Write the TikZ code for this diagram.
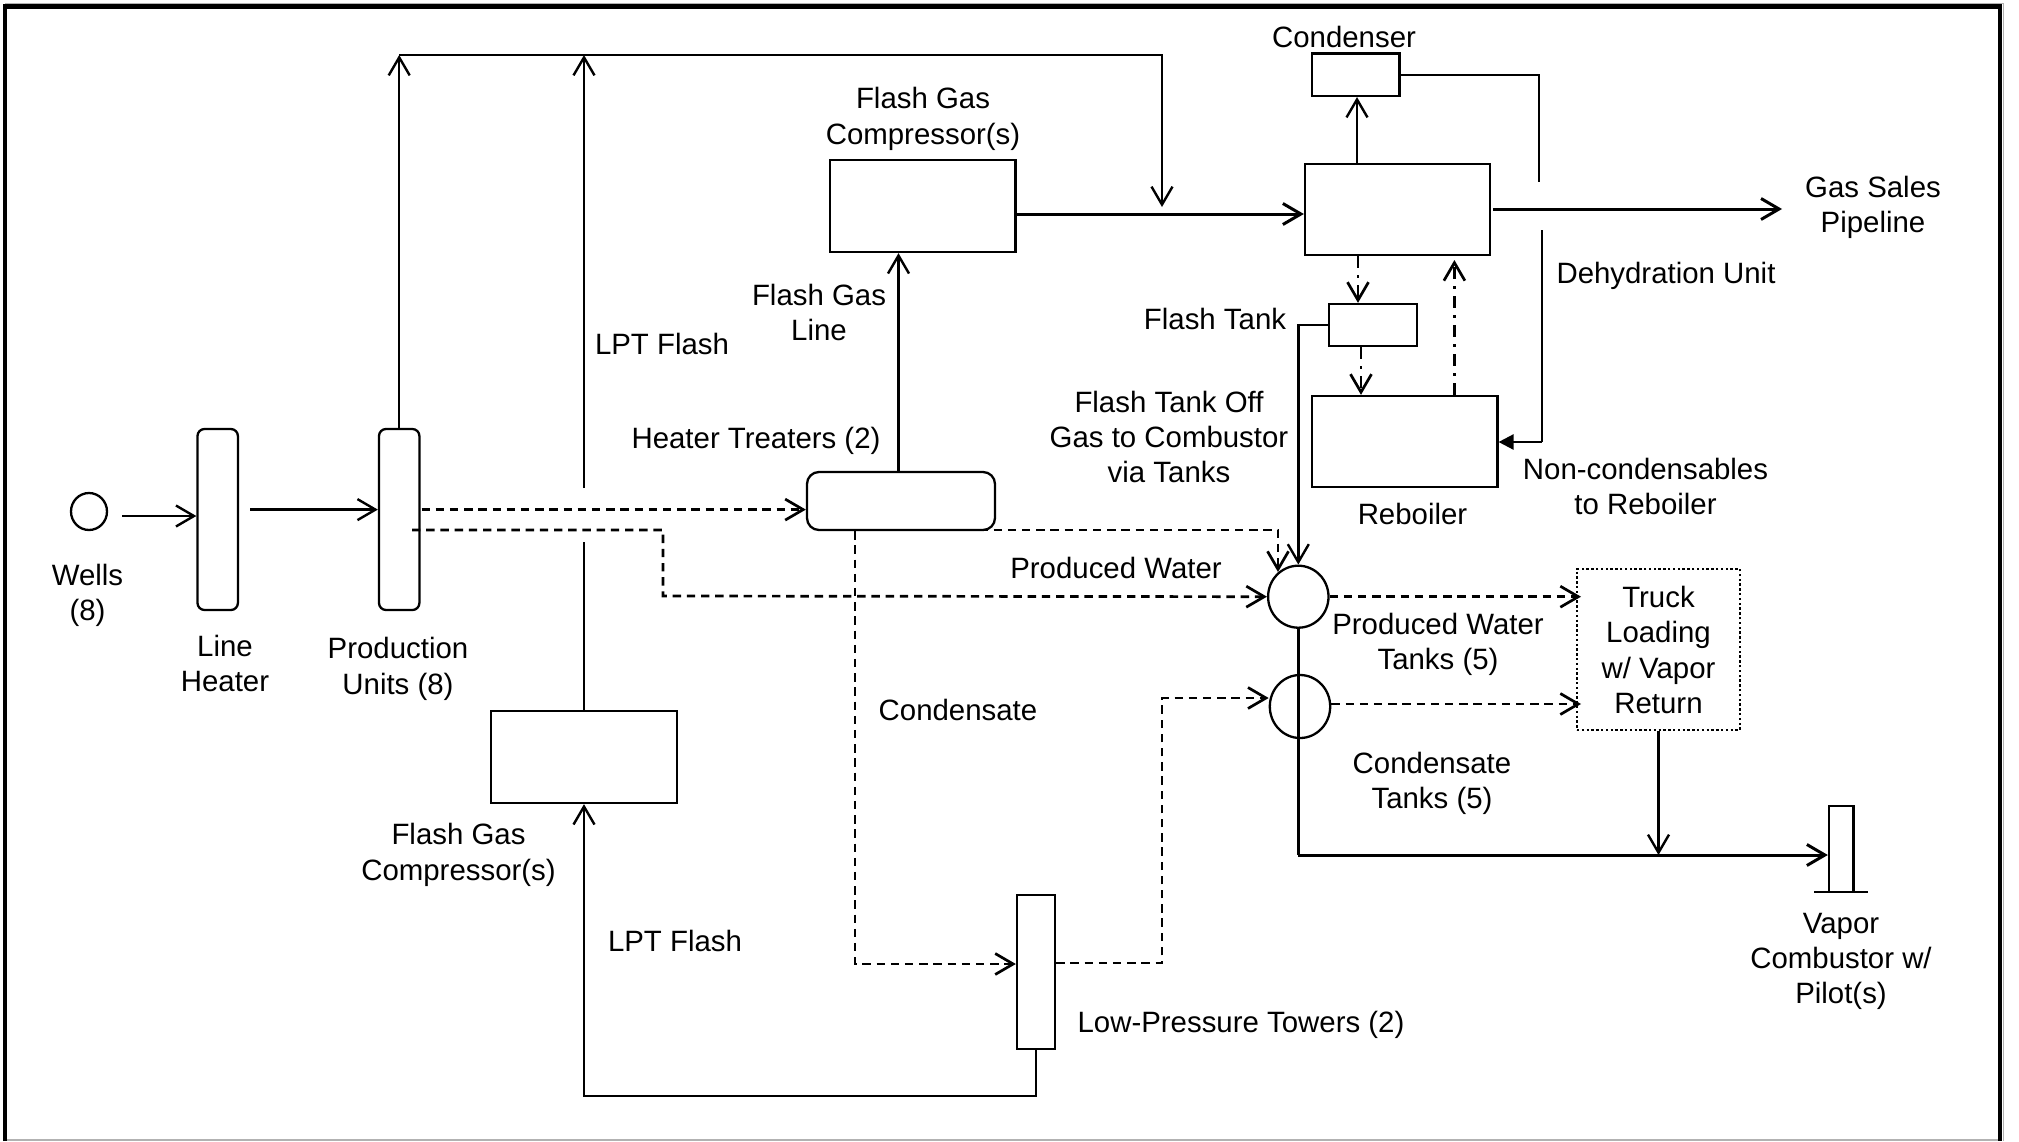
\documentclass[tikz,border=0pt]{standalone}
\usepackage{fontspec}
\setmainfont{Liberation Sans}
\usetikzlibrary{arrows.meta, shapes.geometric}

\tikzset{
  unit/.style={draw, line width=1.15pt, inner sep=0pt},
  vessel/.style={unit, rounded corners=3.5pt},
  tank/.style={unit, ellipse},
  lbl/.style={align=center, inner sep=0pt, font=\fontsize{14.7}{17.7}\selectfont},
  flow/.style={line width=1.2pt},
  mainflow/.style={line width=1.5pt},
  liquid/.style={line width=1.35pt, dash pattern=on 4.2pt off 2.9pt},
  glycol/.style={line width=1.35pt, dash pattern=on 6pt off 3.6pt on 1.3pt off 3.6pt},
}

\begin{document}
\begin{tikzpicture}[x=0.5pt, y=-0.5pt, line cap=butt, line join=miter,
  >={Straight Barb[length=9pt, width=10.5pt]}]

  \useasboundingbox (0,0) rectangle (2019,1141);

  % ── outer frame ──────────────────────────────────────────────────────────

  \coordinate (framebl) at (5,1141);
  \coordinate (frametl) at (5,6.8);
  \coordinate (frametr) at (2000,6.8);
  \coordinate (framebr) at (2000,1141);
  \draw[black!30, line width=0.8pt] (framebl |- 0,1140) -- (framebr |- 0,1140);
  \draw[black!30, line width=0.8pt] (frametl |- 0,3.6) -- (2003.5,3.6) -- (2003.5,1141);
  \draw[line width=2.4pt] (framebl) -- (frametl) -- (frametr) -- (framebr);

  % ── wells and production units ───────────────────────────────────────────

  \node[tank, minimum width=18pt, minimum height=18.5pt] (wells) at (89,511.5) {};
  \node[vessel, minimum width=20.2pt, minimum height=90.5pt] (heater) at (217.7,519.5) {};
  \node[vessel, minimum width=20.2pt, minimum height=90.5pt] (produnit) at (399.2,519.5) {};
  \node[vessel, rounded corners=6pt, minimum width=94pt, minimum height=29pt] (treater) at (901,501) {};

  \node[unit, minimum width=93pt, minimum height=46pt] (lowcomp) at (584,757) {};
  \node[unit, minimum width=92.7pt, minimum height=46pt] (topcomp) at (922.7,206) {};
  \node[unit, minimum width=19pt, minimum height=77pt] (lptower) at (1036,972) {};

  % ── dehydration train ────────────────────────────────────────────────────

  \node[unit, minimum width=92.5pt, minimum height=45.5pt] (dehy) at (1397.5,209.5) {};
  \node[unit, minimum width=43.7pt, minimum height=21.2pt] (condenser) at (1355.7,74.7) {};
  \node[unit, minimum width=43.7pt, minimum height=21pt] (flashtank) at (1373,325) {};
  \node[unit, minimum width=92.7pt, minimum height=45.5pt] (reboiler) at (1404.7,441.5) {};

  % ── tanks, loading and combustor ─────────────────────────────────────────

  \node[tank, minimum width=30.2pt, minimum height=31pt] (pwtank) at (1298.3,596.7) {};
  \node[tank, minimum width=30.2pt, minimum height=31.5pt] (condtank) at (1300,706.5) {};
  \node[unit, line width=1.2pt, dash pattern=on 1.2pt off 1.2pt, minimum width=81.5pt, minimum height=80.5pt] (truck) at (1658.5,649.5) {};
  \node[unit, minimum width=12.2pt, minimum height=43pt] (combustor) at (1841.2,849) {};

  % free ends of the lines
  \coordinate (wellsout) at (122,516);
  \coordinate (heaterout) at (250,509.6);
  \coordinate (unitdashA) at (421.5,509.6);
  \coordinate (unitdashB) at (412,530);
  \coordinate (pipetop) at (399.2,55);
  \coordinate (lptbreakA) at (584,488);
  \coordinate (lptbreakB) at (584,542);
  \coordinate (gasdrop) at (1162,55);
  \coordinate (gasmerge) at (1162,207);
  \coordinate (salesout) at (1493,209);
  \coordinate (salesend) at (1782,209);
  \coordinate (noncondA) at (1539,182);
  \coordinate (noncondB) at (1542,230);
  \coordinate (noncondC) at (1542,442);
  \coordinate (treatwater) at (951,530);
  \coordinate (collector) at (1298.3,855);
  \coordinate (basel) at (1814,892);
  \coordinate (baser) at (1868,892);

  % ── gas side ─────────────────────────────────────────────────────────────

  \draw[flow, ->] (wellsout) -- (wellsout -| heater.west);
  \draw[flow, ->] (heaterout) -- (heaterout -| produnit.west);
  \draw[flow, ->] (produnit.north) -- (pipetop);
  \draw[flow, ->] (lptbreakA) -- (lptbreakA |- pipetop);
  \draw[flow] (lowcomp.north) -- (lptbreakB);
  \draw[flow, ->] (pipetop) -- (gasdrop) -- (gasmerge);
  \draw[mainflow, ->] (topcomp.east |- 0,214) -- (dehy.west |- 0,214);
  \draw[flow, ->] (treater.north -| 898.5,0) -- (topcomp.south -| 898.5,0);
  \draw[flow, ->] (lptower.south) |- (lowcomp.south |- 0,1096) -- (lowcomp.south);
  \draw[mainflow, ->] (salesout) -- (salesend);

  \draw[flow, ->] (dehy.north -| 1357,0) -- (condenser.south -| 1357,0);
  \draw[flow] (condenser.east) -| (noncondA);
  \draw[flow] (noncondB) -- (noncondC);
  \draw[flow, -{Triangle[length=7.5pt, width=7.5pt]}] (noncondC) -- (noncondC -| reboiler.east);

  \draw[glycol, ->] (dehy.south -| 1358,0) -- (flashtank.north -| 1358,0);
  \draw[glycol, ->] (flashtank.south -| 1361,0) -- (reboiler.north -| 1361,0);
  \draw[glycol, ->] (reboiler.north -| 1454.4,0) -- (1454.4,260);

  \draw[flow, ->] (flashtank.west) -| (pwtank.north);
  \draw[flow] (pwtank.south) -- (collector);
  \draw[mainflow, ->] (collector) -- (collector -| combustor.west);
  \draw[flow, ->] (truck.south) -- (truck.south |- collector);
  \draw[flow] (basel) -- (baser);

  % ── liquid side ──────────────────────────────────────────────────────────

  \draw[liquid, ->] (unitdashA) -- (unitdashA -| treater.west);
  \draw[liquid, ->] (unitdashB) -| (663,596) -- (pwtank.west);
  \draw[liquid, ->] (treatwater) -| (1278,572);
  \draw[liquid, ->] (treater.south -| 855,0) |- (lptower.west |- 0,964);
  \draw[liquid, ->] (lptower.east |- 0,963) -| (1162,698) -- (condtank.west |- 0,698);
  \draw[liquid, ->] (pwtank.east) -- (1581,596.7);
  \draw[liquid, ->] (condtank.east |- 0,704) -- (1581,704);

  % ── labels ───────────────────────────────────────────────────────────────

  \node[lbl] (tcondenser) at (1344,37) {Condenser};
  \node[lbl] (tsales) at (1873,207.5) {Gas Sales\\Pipeline};
  \node[lbl] (tdehy) at (1666,275.5) {Dehydration Unit};
  \node[lbl] (tflash) at (1215,319) {Flash Tank};
  \node[lbl] (tflashoff) at (1169,437) {Flash Tank Off\\Gas to Combustor\\via Tanks};
  \node[lbl] (tnoncond) at (1645.5,486.5) {Non-condensables\\to Reboiler};
  \node[lbl] (treboil) at (1412.5,514) {Reboiler};
  \node[lbl] (ttopcomp) at (923,119) {Flash Gas\\Compressor(s)};
  \node[lbl] (tgasline) at (819,312.5) {Flash Gas\\Line};
  \node[lbl] (tlptA) at (662,344) {LPT Flash};
  \node[lbl] (ttreat) at (756,440.5) {Heater Treaters (2)};
  \node[lbl] (tpw) at (1116,568) {Produced Water};
  \node[lbl] (twells) at (87.5,595.5) {Wells\\(8)};
  \node[lbl] (theat) at (225,663.5) {Line\\Heater};
  \node[lbl] (tprod) at (398,669) {Production\\Units (8)};
  \node[lbl] (tpwtank) at (1438,644.5) {Produced Water\\Tanks (5)};
  \node[lbl] (tcond) at (958,709.5) {Condensate};
  \node[lbl] (ttruck) at (1658.5,650) {Truck\\Loading\\w/ Vapor\\Return};
  \node[lbl] (tcondtank) at (1432,783.5) {Condensate\\Tanks (5)};
  \node[lbl] (tlowcomp) at (458.5,855) {Flash Gas\\Compressor(s)};
  \node[lbl] (tlptB) at (675,941) {LPT Flash};
  \node[lbl] (ttower) at (1241,1024.5) {Low-Pressure Towers (2)};
  \node[lbl] (tcomb) at (1841,961.5) {Vapor\\Combustor w/\\Pilot(s)};

\end{tikzpicture}
\end{document}
